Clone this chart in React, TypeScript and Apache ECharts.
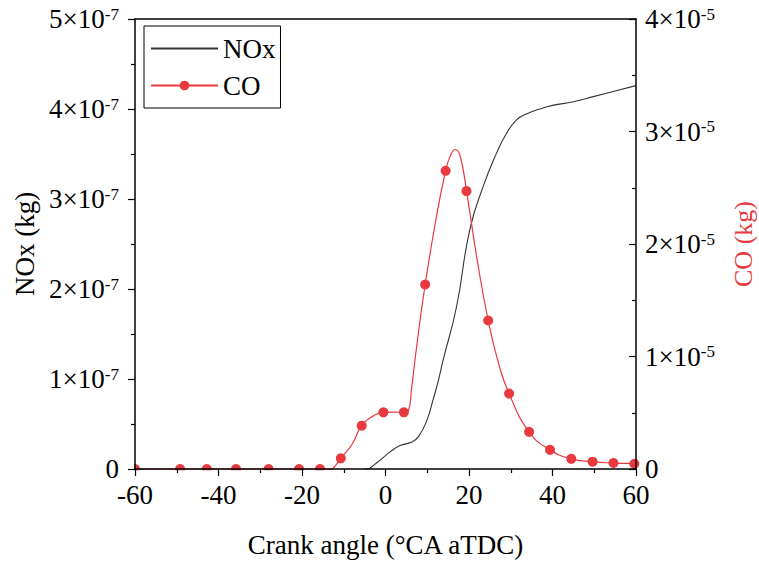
import React, { useEffect, useRef } from "react";
import * as echarts from "echarts";

// Crank angle ticks (°CA aTDC)
const xMin = -60;
const xMax = 60;
const xInterval = 20;

// NOx curve, values in units of 1e-7 kg
const noxX = [-5, -4.5, -2.1, 1.1, 3.5, 6.3, 7.9, 9.9, 11.4, 12.7, 13.8, 17.0, 20.2, 23.4, 26.6, 29.0, 31.4, 34, 37, 40, 45, 50, 55, 60];
const noxE7 = [0, 0, 0.07, 0.19, 0.26, 0.30, 0.36, 0.54, 0.77, 0.99, 1.21, 1.80, 2.66, 3.14, 3.51, 3.73, 3.88, 3.95, 4.0, 4.04, 4.08, 4.14, 4.20, 4.26];

// CO markers, values in units of 1e-5 kg
const coMarkX = [-60, -49.2, -42.8, -35.8, -28, -20.7, -15.7, -10.7, -5.7, -0.5, 4.4, 9.5, 14.4, 19.4, 24.6, 29.6, 34.4, 39.4, 44.5, 49.6, 54.6, 59.6];
const coMarkE5 = [0, 0, 0, 0, 0, 0, 0, 0.095, 0.385, 0.504, 0.504, 1.64, 2.65, 2.47, 1.32, 0.67, 0.33, 0.17, 0.09, 0.065, 0.053, 0.047];

// CO curve points between markers (no marker drawn), units of 1e-5 kg
const coCurveX = [-13, -12, -8, -3, 2, 5.5, 6.2, 7.5, 12, 15.6, 16.7, 17.9, 22, 27, 60];
const coCurveE5 = [0, 0.03, 0.22, 0.47, 0.505, 0.52, 0.7, 1.1, 2.2, 2.79, 2.84, 2.78, 1.85, 0.95, 0.046];

const FONT = "'Liberation Serif', 'Times New Roman', serif";
const RED = "#e8393f";
const NOX_COLOR = "#333333";

export default function App() {
  const ref = useRef<HTMLDivElement>(null);

  useEffect(() => {
    if (!ref.current) return;
    const chart = echarts.init(ref.current, undefined, { renderer: "svg" });

    const noxData = noxX.map((x, i) => [x, noxE7[i]]);
    const coAll: { x: number; y: number; mark: boolean }[] = [];
    coMarkX.forEach((x, i) => coAll.push({ x, y: coMarkE5[i], mark: true }));
    coCurveX.forEach((x, i) => coAll.push({ x, y: coCurveE5[i], mark: false }));
    coAll.sort((a, b) => a.x - b.x);
    const coData = coAll.map((p) =>
      p.mark ? { value: [p.x, p.y] } : { value: [p.x, p.y], symbol: "none" }
    );

    const rich = {
      b: { fontSize: 27, fontFamily: FONT, color: "#000" },
      s: { fontSize: 17, fontFamily: FONT, color: "#000", verticalAlign: "top" as const },
    };

    chart.setOption({
      animation: false,
      backgroundColor: "#fff",
      grid: { left: 135, width: 501, top: 19, height: 450, containLabel: false, outerBoundsMode: "none" },
      legend: {
        orient: "vertical",
        left: 144,
        top: 26,
        padding: [9, 5, 9, 6],
        itemGap: 10,
        itemWidth: 67,
        itemHeight: 12,
        borderColor: "#000",
        borderWidth: 1,
        borderRadius: 0,
        textStyle: { fontFamily: FONT, fontSize: 27, color: "#000" },
        data: [{ name: "NOx", itemStyle: { opacity: 0 } }, { name: "CO" }],
      },
      xAxis: [
        {
          type: "value",
          min: xMin,
          max: xMax,
          interval: xInterval,
          z: 10,
          name: "Crank angle (°CA aTDC)",
          nameLocation: "middle",
          nameGap: 62,
          nameTextStyle: { fontFamily: FONT, fontSize: 27, color: "#000" },
          axisLine: { onZero: false, lineStyle: { color: "#000", width: 1.5 } },
          axisTick: { show: true, inside: false, length: 7, lineStyle: { color: "#000", width: 1.2 } },
          minorTick: { show: true, splitNumber: 2, length: 4, lineStyle: { color: "#000", width: 1.2 } },
          axisLabel: { fontFamily: FONT, fontSize: 27, color: "#000", margin: 12 },
          splitLine: { show: false },
        },
        {
          type: "value",
          position: "top",
          min: xMin,
          max: xMax,
          interval: xInterval,
          z: 10,
          axisLine: { show: true, onZero: false, lineStyle: { color: "#000", width: 1.5 } },
          axisTick: { show: false },
          axisLabel: { show: false },
          splitLine: { show: false },
        },
      ],
      yAxis: [
        {
          type: "value",
          min: 0,
          max: 5,
          interval: 1,
          z: 10,
          name: "NOx (kg)",
          nameLocation: "middle",
          nameGap: 92,
          nameTextStyle: { fontFamily: FONT, fontSize: 27, color: "#000" },
          axisLine: { show: true, onZero: false, lineStyle: { color: "#000", width: 1.5 } },
          axisTick: { show: true, inside: false, length: 7, lineStyle: { color: "#000", width: 1.2 } },
          minorTick: { show: true, splitNumber: 2, length: 4, lineStyle: { color: "#000", width: 1.2 } },
          axisLabel: {
            margin: 16,
            formatter: (v: number) => (v === 0 ? "{b|0}" : `{b|${Math.round(v)}×10}{s|-7}`),
            rich,
          },
          splitLine: { show: false },
        },
        {
          type: "value",
          min: 0,
          max: 4,
          interval: 1,
          z: 10,
          position: "right",
          name: "CO (kg)",
          nameLocation: "middle",
          nameGap: 94,
          nameTextStyle: { fontFamily: FONT, fontSize: 26, color: RED },
          axisLine: { show: true, onZero: false, lineStyle: { color: "#000", width: 1.5 } },
          axisTick: { show: true, inside: true, length: 7, lineStyle: { color: "#000", width: 1.2 } },
          minorTick: { show: true, splitNumber: 2, length: 4, lineStyle: { color: "#000", width: 1.2 } },
          axisLabel: {
            margin: 9,
            formatter: (v: number) => (v === 0 ? "{b|0}" : `{b|${Math.round(v)}×10}{s|-5}`),
            rich,
          },
          splitLine: { show: false },
        },
      ],
      graphic: [
        { type: "rect", z: 5, shape: { x: 120, y: 470.2, width: 530, height: 10 }, style: { fill: "#fff" } },
        { type: "rect", z: 5, shape: { x: 118, y: 450, width: 16.2, height: 30 }, style: { fill: "#fff" } },
      ],
      series: [
        {
          name: "NOx",
          type: "line",
          xAxisIndex: 0,
          yAxisIndex: 0,
          data: noxData,
          symbol: "none",
          smooth: 0.5,
          lineStyle: { color: NOX_COLOR, width: 1.1 },
          itemStyle: { color: NOX_COLOR },
          z: 2,
        },
        {
          name: "CO",
          type: "line",
          xAxisIndex: 0,
          yAxisIndex: 1,
          data: coData,
          symbol: "circle",
          symbolSize: 10,
          showAllSymbol: true,
          smooth: 0.5,
          clip: false,
          lineStyle: { color: RED, width: 1.2 },
          itemStyle: { color: RED },
          z: 3,
        },
      ],
    });

    return () => chart.dispose();
  }, []);

  return (
    <div
      ref={ref}
      style={{ position: "fixed", left: 0, top: 0, width: 759, height: 563 }}
    />
  );
}
